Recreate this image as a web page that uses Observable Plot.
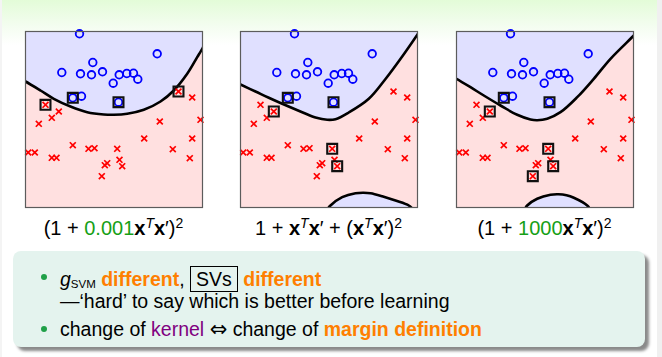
<!DOCTYPE html>
<html><head><meta charset="utf-8">
<script src="https://cdn.jsdelivr.net/npm/d3@7"></script>
<script src="https://cdn.jsdelivr.net/npm/@observablehq/plot@0.6"></script>
<style>
html,body{margin:0;padding:0;}
body{width:662px;height:357px;overflow:hidden;position:relative;background:#fff;font-family:"Liberation Sans",Arial,sans-serif;}
#bg{position:absolute;left:0;top:0;width:662px;height:60px;background:linear-gradient(#e3fcd8 0px,#f3fdef 25px,#fff 45px);}
#rs{position:absolute;left:657px;top:0;width:5px;height:357px;background:#f0f0f0;}
#ls{position:absolute;left:0;top:0;width:2px;height:357px;background:#f4f4f4;}
.panel{position:absolute;}
.panel svg{overflow:visible;}
.f{position:absolute;width:220px;text-align:center;font-size:20px;line-height:20px;color:#000;white-space:nowrap;}
.f sup{font-size:14px;line-height:0;vertical-align:7px;}
.f .g{color:#16a016;}
#box{position:absolute;left:13px;top:251px;width:632px;height:96px;background:#e4f3ee;border-radius:8px;box-shadow:4px 4px 3px #8a8a8a;}
.ln{position:absolute;font-size:19.5px;line-height:20px;white-space:nowrap;color:#000;}
.o{color:#ff7f00;font-weight:bold;}
.p{color:#800080;}
.arr{font-family:"DejaVu Sans",sans-serif;font-size:21px;line-height:1;}
.bul{position:absolute;width:6px;height:6px;border-radius:50%;background:#1fa048;}
.sv{display:inline-block;border:1px solid #000;padding:2px 5px;line-height:20px;}
.sub{font-size:11.5px;vertical-align:-2px;line-height:1;}
</style></head>
<body>
<div id="bg"></div><div id="ls"></div><div id="rs"></div>
<div id="panels"></div>
<div class="f" style="left:3.5px;top:218px;">(1 + <span class="g">0.001</span><b>x</b><sup><i>T</i></sup><b>x</b>′)<sup>2</sup></div>
<div class="f" style="left:218.5px;top:218px;">1 + <b>x</b><sup><i>T</i></sup><b>x</b>′ + (<b>x</b><sup><i>T</i></sup><b>x</b>′)<sup>2</sup></div>
<div class="f" style="left:434.5px;top:218px;">(1 + <span class="g">1000</span><b>x</b><sup><i>T</i></sup><b>x</b>′)<sup>2</sup></div>
<div id="box"></div>
<div class="bul" style="left:41px;top:273.5px;"></div>
<div class="bul" style="left:41px;top:325.5px;"></div>
<div class="ln" style="left:60px;top:265.5px;"><i>g</i><span class="sub">SVM</span> <span class="o">different</span>, <span class="sv">SVs</span> <span class="o">different</span></div>
<div class="ln" style="left:60px;top:290.5px;">—‘hard’ to say which is better before learning</div>
<div class="ln" style="left:60px;top:318.5px;">change of <span class="p">kernel</span> <span class="arr">⇔</span> change of <span class="o">margin definition</span></div>
<script>
// panel coordinates: x 0..177 (left→right), y 0..176 (top→bottom)
const bluePts = [[54,2.3],[131.7,22.3],[67.3,31],[36.3,41],[55,42.3],[66,43.3],[77,40.3],[93.7,43.3],[101.3,42],[108,41.7],[112.3,47.7],[87.7,51.7],[56,64.7],[47.3,66.3],[93,70.7]];
const redPts = [[153,60],[166.7,66],[20,73.3],[33.3,80],[26.3,86.3],[13.3,92.3],[134.3,90],[175,88.3],[118.7,107],[166.7,107],[47.3,113.7],[2.7,121],[9.3,121],[63,117.3],[69,116.7],[91.7,117.3],[147.3,117.7],[26.3,126.3],[31,126.3],[164.3,126.7],[94,128.3],[81.7,131.7],[79.3,133.7],[96.7,134.7],[76.3,144.7]];
const svBlue = [[13,14],[13,14],[13,14]];
const svRed = [[0,2],[3,15,23],[3,15,23,24]];
const topCurves = [
  [[-3,48.5],[0,50],[15,59],[28.3,67.3],[45,75],[61.7,80.7],[78.3,83],[88.3,83.3],[101.7,82.3],[118.3,78.3],[135,70],[148.3,59],[161.7,42.3],[171.7,25.7],[177.3,16.3],[180,11.5]],
  [[-3,51.5],[0,53],[15,60],[28.3,66.3],[41.7,72.3],[61.7,80.7],[75,86],[86.7,88.3],[95,87.7],[108.3,81],[128.3,67.3],[145,47.5],[161.7,25],[177.3,2.5],[180,-1.5]],
  [[-3,45.7],[0,47.3],[14,55.7],[27.3,64],[44,74],[60.7,83.3],[74,88],[80.7,88.7],[90.7,87.3],[104,80.7],[120.7,65.7],[137.3,47.3],[154,27.3],[177.3,4],[180,1]]
];
const bottomCurves = [
  null,
  [[86,179],[90,174],[101.7,165.7],[115,161.7],[123,161.2],[130,161.7],[141.7,164.7],[155,169],[168.3,174],[173,178.5]],
  [[68,178.5],[70.7,174],[80.7,167.3],[94,163.3],[102,162.8],[110,163.8],[117.3,166.3],[130.7,174],[134,178.5]]
];
const panelLeft = [25, 240, 456];
const panelTop = 31;
const W = 177, H = 176, M = 8;

const holder = document.getElementById("panels");
for (let i = 0; i < 3; i++) {
  const marks = [
    Plot.frame({fill: "#ffe0e0"}),
    Plot.areaY(topCurves[i], {x: d => d[0], y1: -5, y2: d => d[1], fill: "#e0e0ff", curve: "catmull-rom", clip: true}),
    Plot.line(topCurves[i], {x: d => d[0], y: d => d[1], stroke: "#000", strokeWidth: 2.6, curve: "catmull-rom", clip: true})
  ];
  if (bottomCurves[i]) {
    marks.push(
      Plot.areaY(bottomCurves[i], {x: d => d[0], y1: d => d[1], y2: 185, fill: "#e0e0ff", curve: "catmull-rom", clip: true}),
      Plot.line(bottomCurves[i], {x: d => d[0], y: d => d[1], stroke: "#000", strokeWidth: 2.6, curve: "catmull-rom", clip: true})
    );
  }
  const svs = [...svBlue[i].map(k => bluePts[k]), ...svRed[i].map(k => redPts[k])];
  marks.push(
    Plot.dot(bluePts, {x: d => d[0], y: d => d[1], r: 3.8, stroke: "#0000ff", strokeWidth: 1.8, fill: "none"}),
    Plot.dot(redPts, {x: d => d[0], y: d => d[1], symbol: "times", r: 2.8, stroke: "#ff0000", strokeWidth: 1.7}),
    Plot.dot(svs, {x: d => d[0], y: d => d[1], symbol: "square", r: 5.6, stroke: "#111", strokeWidth: 2.1, fill: "none"}),
    Plot.frame({stroke: "#5c5c5c", strokeWidth: 1.2})
  );
  const svg = Plot.plot({
    width: W + 2 * M, height: H + 2 * M,
    marginLeft: M, marginRight: M, marginTop: M, marginBottom: M,
    x: {domain: [0, W], axis: null},
    y: {domain: [0, H], reverse: true, axis: null},
    style: {background: "transparent", overflow: "visible"},
    marks
  });
  const div = document.createElement("div");
  div.className = "panel";
  div.style.left = (panelLeft[i] - M) + "px";
  div.style.top = (panelTop - M) + "px";
  div.appendChild(svg);
  holder.appendChild(div);
}
</script>
</body></html>
